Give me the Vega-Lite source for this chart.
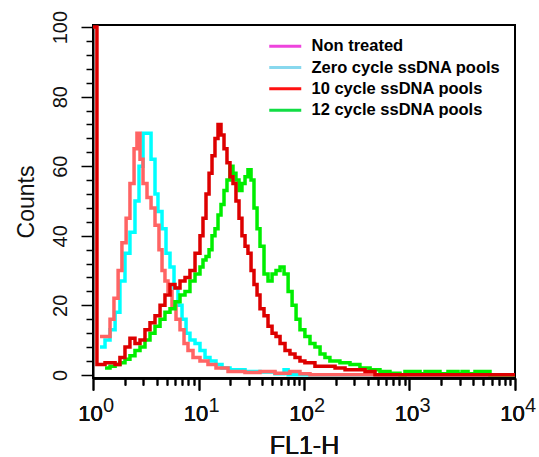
{
  "$schema": "https://vega.github.io/schema/vega-lite/v6.json",
  "width": 422,
  "height": 353,
  "autosize": "none",
  "padding": {"left": 93, "top": 25, "right": 24, "bottom": 79},
  "config": {
    "view": {"stroke": "black", "strokeWidth": 2},
    "font": "Liberation Sans",
    "axis": {"grid": false, "domainColor": "black", "domainWidth": 2, "tickColor": "black", "tickWidth": 1.5, "labelColor": "#111", "titleColor": "#111", "titleFontWeight": "normal", "labelFont": "Liberation Sans", "titleFont": "Liberation Sans"}
  },
  "resolve": {"axis": {"x": "independent"}},
  "data": {"values": [
    {"s": "10 cycle ssDNA pools", "v": 1, "c": 100},
    {"s": "10 cycle ssDNA pools", "v": 1.09, "c": 3},
    {"s": "10 cycle ssDNA pools", "v": 1.3, "c": 3.5},
    {"s": "10 cycle ssDNA pools", "v": 1.62, "c": 3},
    {"s": "10 cycle ssDNA pools", "v": 1.8, "c": 5},
    {"s": "10 cycle ssDNA pools", "v": 2.01, "c": 8},
    {"s": "10 cycle ssDNA pools", "v": 2.24, "c": 10.5},
    {"s": "10 cycle ssDNA pools", "v": 2.5, "c": 9},
    {"s": "10 cycle ssDNA pools", "v": 2.79, "c": 10},
    {"s": "10 cycle ssDNA pools", "v": 3.11, "c": 13},
    {"s": "10 cycle ssDNA pools", "v": 3.47, "c": 15},
    {"s": "10 cycle ssDNA pools", "v": 3.87, "c": 17},
    {"s": "10 cycle ssDNA pools", "v": 4.32, "c": 20},
    {"s": "10 cycle ssDNA pools", "v": 4.81, "c": 23},
    {"s": "10 cycle ssDNA pools", "v": 5.37, "c": 26},
    {"s": "10 cycle ssDNA pools", "v": 5.99, "c": 25},
    {"s": "10 cycle ssDNA pools", "v": 6.68, "c": 27},
    {"s": "10 cycle ssDNA pools", "v": 7.45, "c": 28},
    {"s": "10 cycle ssDNA pools", "v": 8.3, "c": 30},
    {"s": "10 cycle ssDNA pools", "v": 9.27, "c": 35},
    {"s": "10 cycle ssDNA pools", "v": 10.33, "c": 40},
    {"s": "10 cycle ssDNA pools", "v": 11.03, "c": 45},
    {"s": "10 cycle ssDNA pools", "v": 11.78, "c": 52},
    {"s": "10 cycle ssDNA pools", "v": 12.59, "c": 58},
    {"s": "10 cycle ssDNA pools", "v": 13.43, "c": 63},
    {"s": "10 cycle ssDNA pools", "v": 14.33, "c": 68},
    {"s": "10 cycle ssDNA pools", "v": 15.31, "c": 72},
    {"s": "10 cycle ssDNA pools", "v": 16.34, "c": 69},
    {"s": "10 cycle ssDNA pools", "v": 17.45, "c": 65},
    {"s": "10 cycle ssDNA pools", "v": 18.62, "c": 61},
    {"s": "10 cycle ssDNA pools", "v": 19.89, "c": 57},
    {"s": "10 cycle ssDNA pools", "v": 21.23, "c": 55},
    {"s": "10 cycle ssDNA pools", "v": 22.65, "c": 50},
    {"s": "10 cycle ssDNA pools", "v": 24.21, "c": 45},
    {"s": "10 cycle ssDNA pools", "v": 25.82, "c": 40},
    {"s": "10 cycle ssDNA pools", "v": 27.61, "c": 37},
    {"s": "10 cycle ssDNA pools", "v": 29.44, "c": 35},
    {"s": "10 cycle ssDNA pools", "v": 31.48, "c": 30},
    {"s": "10 cycle ssDNA pools", "v": 33.57, "c": 26},
    {"s": "10 cycle ssDNA pools", "v": 35.89, "c": 23},
    {"s": "10 cycle ssDNA pools", "v": 38.28, "c": 19},
    {"s": "10 cycle ssDNA pools", "v": 41.78, "c": 17},
    {"s": "10 cycle ssDNA pools", "v": 45.6, "c": 14},
    {"s": "10 cycle ssDNA pools", "v": 49.8, "c": 12},
    {"s": "10 cycle ssDNA pools", "v": 54.3, "c": 11},
    {"s": "10 cycle ssDNA pools", "v": 59.3, "c": 9},
    {"s": "10 cycle ssDNA pools", "v": 66.1, "c": 7},
    {"s": "10 cycle ssDNA pools", "v": 73.6, "c": 6},
    {"s": "10 cycle ssDNA pools", "v": 82.2, "c": 5},
    {"s": "10 cycle ssDNA pools", "v": 91.6, "c": 4},
    {"s": "10 cycle ssDNA pools", "v": 102, "c": 3.5},
    {"s": "10 cycle ssDNA pools", "v": 127, "c": 2.5},
    {"s": "10 cycle ssDNA pools", "v": 158, "c": 2.5},
    {"s": "10 cycle ssDNA pools", "v": 197, "c": 2},
    {"s": "10 cycle ssDNA pools", "v": 245, "c": 1.5},
    {"s": "10 cycle ssDNA pools", "v": 304, "c": 1.5},
    {"s": "10 cycle ssDNA pools", "v": 379, "c": 1},
    {"s": "10 cycle ssDNA pools", "v": 471, "c": 0},
    {"s": "10 cycle ssDNA pools", "v": 10000, "c": 0},
    {"s": "12 cycle ssDNA pools", "v": 1.3, "c": 2},
    {"s": "12 cycle ssDNA pools", "v": 1.45, "c": 2.5},
    {"s": "12 cycle ssDNA pools", "v": 1.62, "c": 3},
    {"s": "12 cycle ssDNA pools", "v": 1.8, "c": 3.5},
    {"s": "12 cycle ssDNA pools", "v": 2.01, "c": 4.5},
    {"s": "12 cycle ssDNA pools", "v": 2.24, "c": 5.5},
    {"s": "12 cycle ssDNA pools", "v": 2.5, "c": 7},
    {"s": "12 cycle ssDNA pools", "v": 2.79, "c": 8},
    {"s": "12 cycle ssDNA pools", "v": 3.11, "c": 10},
    {"s": "12 cycle ssDNA pools", "v": 3.47, "c": 12},
    {"s": "12 cycle ssDNA pools", "v": 3.87, "c": 14},
    {"s": "12 cycle ssDNA pools", "v": 4.32, "c": 16},
    {"s": "12 cycle ssDNA pools", "v": 4.81, "c": 18},
    {"s": "12 cycle ssDNA pools", "v": 5.37, "c": 19},
    {"s": "12 cycle ssDNA pools", "v": 5.99, "c": 21},
    {"s": "12 cycle ssDNA pools", "v": 6.68, "c": 23},
    {"s": "12 cycle ssDNA pools", "v": 7.45, "c": 24},
    {"s": "12 cycle ssDNA pools", "v": 8.3, "c": 27},
    {"s": "12 cycle ssDNA pools", "v": 9.27, "c": 29},
    {"s": "12 cycle ssDNA pools", "v": 10.33, "c": 31},
    {"s": "12 cycle ssDNA pools", "v": 11.03, "c": 33},
    {"s": "12 cycle ssDNA pools", "v": 11.78, "c": 34},
    {"s": "12 cycle ssDNA pools", "v": 12.59, "c": 36},
    {"s": "12 cycle ssDNA pools", "v": 13.43, "c": 40},
    {"s": "12 cycle ssDNA pools", "v": 14.33, "c": 42},
    {"s": "12 cycle ssDNA pools", "v": 15.31, "c": 46},
    {"s": "12 cycle ssDNA pools", "v": 16.34, "c": 49},
    {"s": "12 cycle ssDNA pools", "v": 17.45, "c": 53},
    {"s": "12 cycle ssDNA pools", "v": 18.62, "c": 56},
    {"s": "12 cycle ssDNA pools", "v": 19.89, "c": 60},
    {"s": "12 cycle ssDNA pools", "v": 21.23, "c": 58},
    {"s": "12 cycle ssDNA pools", "v": 22.65, "c": 56},
    {"s": "12 cycle ssDNA pools", "v": 24.21, "c": 53},
    {"s": "12 cycle ssDNA pools", "v": 25.82, "c": 55},
    {"s": "12 cycle ssDNA pools", "v": 27.61, "c": 57},
    {"s": "12 cycle ssDNA pools", "v": 29.44, "c": 59},
    {"s": "12 cycle ssDNA pools", "v": 31.48, "c": 56},
    {"s": "12 cycle ssDNA pools", "v": 33.57, "c": 48},
    {"s": "12 cycle ssDNA pools", "v": 35.89, "c": 42},
    {"s": "12 cycle ssDNA pools", "v": 38.28, "c": 37},
    {"s": "12 cycle ssDNA pools", "v": 41.78, "c": 29},
    {"s": "12 cycle ssDNA pools", "v": 45.6, "c": 27},
    {"s": "12 cycle ssDNA pools", "v": 49.8, "c": 29},
    {"s": "12 cycle ssDNA pools", "v": 54.3, "c": 30},
    {"s": "12 cycle ssDNA pools", "v": 59.3, "c": 31},
    {"s": "12 cycle ssDNA pools", "v": 64.7, "c": 29},
    {"s": "12 cycle ssDNA pools", "v": 70.7, "c": 24},
    {"s": "12 cycle ssDNA pools", "v": 77.1, "c": 20},
    {"s": "12 cycle ssDNA pools", "v": 84.1, "c": 16},
    {"s": "12 cycle ssDNA pools", "v": 91.6, "c": 13},
    {"s": "12 cycle ssDNA pools", "v": 102, "c": 11},
    {"s": "12 cycle ssDNA pools", "v": 114, "c": 9},
    {"s": "12 cycle ssDNA pools", "v": 127, "c": 8},
    {"s": "12 cycle ssDNA pools", "v": 142, "c": 6},
    {"s": "12 cycle ssDNA pools", "v": 158, "c": 5},
    {"s": "12 cycle ssDNA pools", "v": 176, "c": 4},
    {"s": "12 cycle ssDNA pools", "v": 219, "c": 3.5},
    {"s": "12 cycle ssDNA pools", "v": 273, "c": 3},
    {"s": "12 cycle ssDNA pools", "v": 339, "c": 2},
    {"s": "12 cycle ssDNA pools", "v": 423, "c": 1.5},
    {"s": "12 cycle ssDNA pools", "v": 525, "c": 1},
    {"s": "12 cycle ssDNA pools", "v": 653, "c": 0.5},
    {"s": "12 cycle ssDNA pools", "v": 813, "c": 0},
    {"s": "12 cycle ssDNA pools", "v": 906, "c": 1},
    {"s": "12 cycle ssDNA pools", "v": 1259, "c": 0.3},
    {"s": "12 cycle ssDNA pools", "v": 1403, "c": 1},
    {"s": "12 cycle ssDNA pools", "v": 1945, "c": 0.3},
    {"s": "12 cycle ssDNA pools", "v": 2317, "c": 1},
    {"s": "12 cycle ssDNA pools", "v": 2884, "c": 0.3},
    {"s": "12 cycle ssDNA pools", "v": 3148, "c": 1},
    {"s": "12 cycle ssDNA pools", "v": 3589, "c": 0.3},
    {"s": "12 cycle ssDNA pools", "v": 4178, "c": 1},
    {"s": "12 cycle ssDNA pools", "v": 4866, "c": 0.3},
    {"s": "12 cycle ssDNA pools", "v": 5200, "c": 1},
    {"s": "12 cycle ssDNA pools", "v": 5794, "c": 0},
    {"s": "12 cycle ssDNA pools", "v": 10000, "c": 0},
    {"s": "Zero cycle ssDNA pools", "v": 1.165, "c": 8},
    {"s": "Zero cycle ssDNA pools", "v": 1.3, "c": 10},
    {"s": "Zero cycle ssDNA pools", "v": 1.45, "c": 13},
    {"s": "Zero cycle ssDNA pools", "v": 1.62, "c": 18},
    {"s": "Zero cycle ssDNA pools", "v": 1.8, "c": 27},
    {"s": "Zero cycle ssDNA pools", "v": 2.01, "c": 35},
    {"s": "Zero cycle ssDNA pools", "v": 2.24, "c": 41},
    {"s": "Zero cycle ssDNA pools", "v": 2.5, "c": 50},
    {"s": "Zero cycle ssDNA pools", "v": 2.73, "c": 60},
    {"s": "Zero cycle ssDNA pools", "v": 2.98, "c": 69.5},
    {"s": "Zero cycle ssDNA pools", "v": 3.25, "c": 69.5},
    {"s": "Zero cycle ssDNA pools", "v": 3.55, "c": 62},
    {"s": "Zero cycle ssDNA pools", "v": 3.87, "c": 52},
    {"s": "Zero cycle ssDNA pools", "v": 4.13, "c": 47},
    {"s": "Zero cycle ssDNA pools", "v": 4.51, "c": 42},
    {"s": "Zero cycle ssDNA pools", "v": 4.92, "c": 35},
    {"s": "Zero cycle ssDNA pools", "v": 5.37, "c": 31},
    {"s": "Zero cycle ssDNA pools", "v": 5.86, "c": 25},
    {"s": "Zero cycle ssDNA pools", "v": 6.39, "c": 20},
    {"s": "Zero cycle ssDNA pools", "v": 6.98, "c": 16},
    {"s": "Zero cycle ssDNA pools", "v": 7.62, "c": 12},
    {"s": "Zero cycle ssDNA pools", "v": 8.3, "c": 10},
    {"s": "Zero cycle ssDNA pools", "v": 9.27, "c": 9},
    {"s": "Zero cycle ssDNA pools", "v": 10.33, "c": 7},
    {"s": "Zero cycle ssDNA pools", "v": 11.53, "c": 5},
    {"s": "Zero cycle ssDNA pools", "v": 12.85, "c": 4},
    {"s": "Zero cycle ssDNA pools", "v": 14.65, "c": 3},
    {"s": "Zero cycle ssDNA pools", "v": 16.71, "c": 2},
    {"s": "Zero cycle ssDNA pools", "v": 19.89, "c": 1.5},
    {"s": "Zero cycle ssDNA pools", "v": 27.6, "c": 1},
    {"s": "Zero cycle ssDNA pools", "v": 38.3, "c": 0.8},
    {"s": "Zero cycle ssDNA pools", "v": 53.1, "c": 0.3},
    {"s": "Zero cycle ssDNA pools", "v": 64.7, "c": 1.5},
    {"s": "Zero cycle ssDNA pools", "v": 70.7, "c": 0},
    {"s": "Zero cycle ssDNA pools", "v": 10000, "c": 0},
    {"s": "Non treated", "v": 1.165, "c": 11},
    {"s": "Non treated", "v": 1.3, "c": 11},
    {"s": "Non treated", "v": 1.45, "c": 16},
    {"s": "Non treated", "v": 1.58, "c": 22},
    {"s": "Non treated", "v": 1.73, "c": 30},
    {"s": "Non treated", "v": 1.88, "c": 38},
    {"s": "Non treated", "v": 2.06, "c": 45},
    {"s": "Non treated", "v": 2.24, "c": 55},
    {"s": "Non treated", "v": 2.45, "c": 65},
    {"s": "Non treated", "v": 2.61, "c": 69.5},
    {"s": "Non treated", "v": 2.79, "c": 62},
    {"s": "Non treated", "v": 2.98, "c": 55},
    {"s": "Non treated", "v": 3.25, "c": 51},
    {"s": "Non treated", "v": 3.55, "c": 48},
    {"s": "Non treated", "v": 3.87, "c": 43},
    {"s": "Non treated", "v": 4.22, "c": 36},
    {"s": "Non treated", "v": 4.51, "c": 30},
    {"s": "Non treated", "v": 4.81, "c": 27},
    {"s": "Non treated", "v": 5.14, "c": 24},
    {"s": "Non treated", "v": 5.61, "c": 20},
    {"s": "Non treated", "v": 6.12, "c": 16},
    {"s": "Non treated", "v": 6.68, "c": 13},
    {"s": "Non treated", "v": 7.29, "c": 9},
    {"s": "Non treated", "v": 7.95, "c": 7},
    {"s": "Non treated", "v": 8.87, "c": 5},
    {"s": "Non treated", "v": 10.33, "c": 4},
    {"s": "Non treated", "v": 12.3, "c": 3},
    {"s": "Non treated", "v": 14.65, "c": 2},
    {"s": "Non treated", "v": 19.05, "c": 1},
    {"s": "Non treated", "v": 27.6, "c": 0.7},
    {"s": "Non treated", "v": 38.3, "c": 1},
    {"s": "Non treated", "v": 53.1, "c": 0.5},
    {"s": "Non treated", "v": 73.6, "c": 1},
    {"s": "Non treated", "v": 91.6, "c": 0.3},
    {"s": "Non treated", "v": 114, "c": 0},
    {"s": "Non treated", "v": 10000, "c": 0}
  ]},
  "encoding": {
    "x": {
      "field": "v", "type": "quantitative",
      "scale": {"type": "log", "domain": [1, 10000], "nice": false},
      "axis": {
        "orient": "bottom",
        "title": "FL1-H",
        "values": [1,2,3,4,5,6,7,8,9,10,20,30,40,50,60,70,80,90,100,200,300,400,500,600,700,800,900,1000,2000,3000,4000,5000,6000,7000,8000,9000,10000],
        "labelExpr": "datum.value == 1 || datum.value == 10 || datum.value == 100 || datum.value == 1000 || datum.value == 10000 ? '10' : ''",
        "tickSize": {"condition": {"test": "datum.value == 1 || datum.value == 10 || datum.value == 100 || datum.value == 1000 || datum.value == 10000", "value": 12}, "value": 7},
        "labelFontSize": 22,
        "labelPadding": 13,
        "labelOffset": -3,
        "labelFlush": false,
        "labelOverlap": false,
        "labelBound": false,
        "titleFontSize": 25,
        "titlePadding": 9
      }
    },
    "y": {
      "field": "c", "type": "quantitative",
      "scale": {"domain": [-0.9, 100.6], "nice": false, "zero": false},
      "axis": {
        "title": "Counts",
        "values": [0,4,8,12,16,20,24,28,32,36,40,44,48,52,56,60,64,68,72,76,80,84,88,92,96,100],
        "labelExpr": "datum.value % 20 == 0 ? datum.label : ''",
        "labelAngle": -90,
        "labelAlign": "center",
        "labelBaseline": "alphabetic",
        "labelFontSize": 20,
        "labelPadding": 15,
        "labelOverlap": false,
        "tickSize": {"condition": {"test": "datum.value % 20 == 0", "value": 12}, "value": 7},
        "titleFontSize": 23,
        "titlePadding": 12
      }
    }
  },
  "layer": [
    {
      "mark": {"type": "line", "opacity": 0, "strokeWidth": 3},
      "encoding": {
        "x": {
          "field": "v", "type": "quantitative",
          "axis": {
            "orient": "bottom",
            "title": null,
            "values": [1, 10, 100, 1000, 10000],
            "labelExpr": "datum.value == 1 ? '0' : datum.value == 10 ? '1' : datum.value == 100 ? '2' : datum.value == 1000 ? '3' : '4'",
            "domain": false,
            "ticks": false,
            "tickSize": 0,
            "labelFontSize": 20,
            "labelPadding": 17,
            "labelOffset": 15,
            "labelFlush": false,
            "labelOverlap": false,
            "labelBound": false
          }
        },
        "color": {
          "field": "s", "type": "nominal",
          "scale": {"domain": ["Non treated", "Zero cycle ssDNA pools", "10 cycle ssDNA pools", "12 cycle ssDNA pools"], "range": ["#ee44dd", "#88d8ee", "#ff1111", "#11dd44"]},
          "legend": {
            "title": null, "orient": "none", "legendX": 184, "legendY": 13,
            "symbolType": "M-3.2,0L3.2,0", "symbolSize": 100, "symbolStrokeWidth": 3, "symbolOpacity": 1,
            "labelFont": "Liberation Sans", "labelFontSize": 16.5, "labelFontWeight": "bold", "labelColor": "black",
            "labelOffset": 18, "rowPadding": 4.3, "padding": 0, "labelLimit": 400
          }
        }
      }
    },
    {"transform": [{"filter": "datum.s == 'Zero cycle ssDNA pools'"}], "mark": {"type": "line", "interpolate": "step-after", "color": "#00ffff", "strokeWidth": 3.5}},
    {"transform": [{"filter": "datum.s == 'Non treated'"}], "mark": {"type": "line", "interpolate": "step-after", "color": "#ff6464", "strokeWidth": 3.5}},
    {"transform": [{"filter": "datum.s == '12 cycle ssDNA pools'"}], "mark": {"type": "line", "interpolate": "step-after", "color": "#00ee00", "strokeWidth": 3.5}},
    {"transform": [{"filter": "datum.s == '10 cycle ssDNA pools'"}], "mark": {"type": "line", "interpolate": "step-after", "color": "#dd0000", "strokeWidth": 3.5}}
  ]
}
